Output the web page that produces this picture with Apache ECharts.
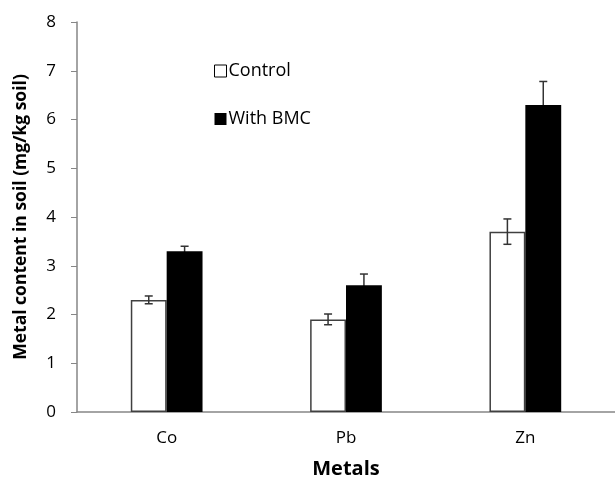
<!DOCTYPE html>
<html>
<head>
<meta charset="utf-8">
<script src="https://cdn.jsdelivr.net/npm/echarts@6/dist/echarts.min.js"></script>
<style>
  html, body { margin: 0; padding: 0; background: #fff; }
  #chart { width: 615px; height: 480px; }
</style>
</head>
<body>
<div id="chart"></div>
<script>
var metals = ['Co', 'Pb', 'Zn'];
var controlVals = [2.3, 1.9, 3.7];
var controlErr = [0.08, 0.11, 0.26];
var bmcVals = [3.3, 2.6, 6.3];
var bmcErr = [0.1, 0.23, 0.48];

var chart = echarts.init(document.getElementById('chart'));
var font = '"Open Sans", "Liberation Sans", sans-serif';

// error bars, shifted left or right of the category centre
function errSeries(vals, errs, side, z) {
    var data = vals.map(function (v, i) { return [i, v - errs[i], v + errs[i]]; });
    return {
        type: 'custom',
        z: z,
        data: data,
        renderItem: function (params, api) {
            var band = api.size([1, 0])[0];
            var shift = side * band * 0.1;
            var lo = api.coord([api.value(0), api.value(1)]);
            var hi = api.coord([api.value(0), api.value(2)]);
            var x = lo[0] + shift;
            var cap = 4;
            var st = { stroke: '#333', lineWidth: 1.5 };
            return {
                type: 'group',
                children: [
                    { type: 'line', shape: { x1: x, y1: lo[1], x2: x, y2: hi[1] }, style: st },
                    { type: 'line', shape: { x1: x - cap, y1: lo[1], x2: x + cap, y2: lo[1] }, style: st },
                    { type: 'line', shape: { x1: x - cap, y1: hi[1], x2: x + cap, y2: hi[1] }, style: st }
                ]
            };
        }
    };
}

var option = {
    animation: false,
    grid: { left: 77, right: 0, top: 22, bottom: 68, outerBoundsMode: 'none' },
    legend: {
        orient: 'vertical',
        left: 209,
        top: 57,
        itemGap: 30,
        itemWidth: 12,
        itemHeight: 12,
        textStyle: { fontFamily: font, fontSize: 18, color: '#000', padding: [0, 0, 0, -3] },
        data: [
            { name: 'Control', icon: 'rect', itemStyle: { color: '#fff', borderColor: '#000', borderWidth: 1 } },
            { name: 'With BMC', icon: 'rect', itemStyle: { color: '#000' } }
        ]
    },
    xAxis: {
        type: 'category',
        data: metals,
        name: 'Metals',
        nameLocation: 'middle',
        nameGap: 47,
        nameTextStyle: { fontFamily: font, fontSize: 20, fontWeight: 'bold', color: '#000' },
        axisLine: { lineStyle: { color: '#868686', width: 1.5 } },
        axisTick: { show: false },
        axisLabel: { fontFamily: font, fontSize: 17, color: '#000', margin: 18 }
    },
    yAxis: {
        type: 'value',
        min: 0,
        max: 8,
        interval: 1,
        name: 'Metal content in soil (mg/kg soil)',
        nameLocation: 'middle',
        nameGap: 47,
        nameMoveOverlap: false,
        nameTextStyle: { fontFamily: font, fontSize: 17.5, fontWeight: 'bold', color: '#000' },
        splitLine: { show: false },
        axisLine: { show: true, lineStyle: { color: '#868686', width: 1.5 } },
        axisTick: { show: true, length: 6, lineStyle: { color: '#868686' } },
        axisLabel: { fontFamily: font, fontSize: 17, color: '#000', margin: 21 }
    },
    series: [
        {
            name: 'Control',
            type: 'bar',
            z: 2,
            data: controlVals,
            barWidth: '20%',
            barGap: '0%',
            itemStyle: { color: '#fff', borderColor: '#404040', borderWidth: 1.5 }
        },
        {
            name: 'With BMC',
            type: 'bar',
            z: 2,
            data: bmcVals,
            barWidth: '20%',
            barGap: '0%',
            itemStyle: { color: '#000' }
        },
        errSeries(controlVals, controlErr, -1, 5),
        errSeries(bmcVals, bmcErr, 1, 1)
    ]
};

chart.setOption(option);
</script>
</body>
</html>
